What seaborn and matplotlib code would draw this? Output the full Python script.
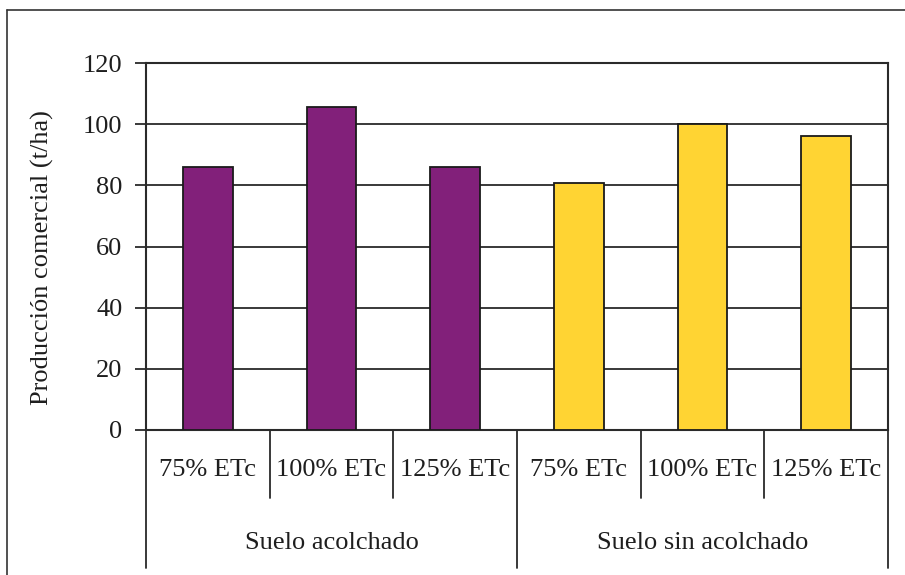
import matplotlib
matplotlib.use("Agg")
import matplotlib.pyplot as plt
from matplotlib.lines import Line2D
import seaborn as sns
import pandas as pd

# Data
groups = ["Suelo acolchado", "Suelo sin acolchado"]
treatments = ["75% ETc", "100% ETc", "125% ETc"]
acolchado = [86, 105.7, 86]
sin_acolchado = [80.7, 100, 96]
group_colors = ["#82207A", "#FFD433"]
y_ticks = [0, 20, 40, 60, 80, 100, 120]
y_label = "Producción comercial (t/ha)"

rows = []
for g, vals in zip(groups, [acolchado, sin_acolchado]):
    for t, v in zip(treatments, vals):
        rows.append({"grupo": g, "tratamiento": t, "clave": f"{g}|{t}", "valor": v})
df = pd.DataFrame(rows)

sns.set_theme(style="white")
plt.rcParams["font.family"] = ["Liberation Serif", "DejaVu Serif"]

W, H = 905, 575
fig = plt.figure(figsize=(W / 100, H / 100), dpi=100)
left, right, top, bottom = 146, 888, 63, 430
ax = fig.add_axes([left / W, 1 - bottom / H, (right - left) / W, (bottom - top) / H])

sns.barplot(data=df, x="clave", y="valor", hue="grupo", order=list(df["clave"]),
            palette=group_colors, saturation=1, dodge=False, width=0.4,
            edgecolor="#1a1a1a", linewidth=1.3, legend=False, ax=ax, zorder=3)

ax.set_ylim(0, 120)
ax.set_xlim(-0.5, len(df) - 0.5)
ax.set_yticks(y_ticks)
ax.set_yticklabels([str(t) for t in y_ticks], fontsize=19, color="#1e1e1e")
ax.set_xticks([])
ax.set_xlabel("")
ax.set_ylabel(y_label, fontsize=19, color="#1e1e1e")
ax.yaxis.set_label_coords(-0.124, 0.47)

ax.yaxis.grid(True, color="#2a2a2a", linewidth=1.3, zorder=0)
ax.set_axisbelow(True)
for s in ax.spines.values():
    s.set_visible(True)
    s.set_color("#2a2a2a")
    s.set_linewidth(1.5)
ax.tick_params(axis="y", which="major", left=True, length=8, width=1.3,
               color="#2a2a2a", pad=9)

# Category axis: treatment labels and group labels with separators
trans = ax.get_xaxis_transform()
n = len(df)
for i, t in enumerate(df["tratamiento"]):
    ax.text(i, -0.109, t, transform=trans, ha="center", va="center",
            fontsize=19, color="#1e1e1e")
for i in range(1, n):
    outer = i % len(treatments) == 0
    y_end = -0.375 if outer else -0.185
    ax.add_line(Line2D([i - 0.5, i - 0.5], [0, y_end], transform=trans,
                       color="#2a2a2a", linewidth=1.3, clip_on=False))
for edge in [-0.5, n - 0.5]:
    ax.add_line(Line2D([edge, edge], [0, -0.375], transform=trans,
                       color="#2a2a2a", linewidth=1.3, clip_on=False))
for gi, g in enumerate(groups):
    center = gi * len(treatments) + (len(treatments) - 1) / 2
    ax.text(center, -0.308, g, transform=trans, ha="center", va="center",
            fontsize=19, color="#1e1e1e")

# Frame around the figure
fig.add_artist(Line2D([7 / W, 1], [1 - 10 / H, 1 - 10 / H], transform=fig.transFigure,
                      color="#333333", linewidth=1.2))
fig.add_artist(Line2D([7 / W, 7 / W], [0, 1 - 10 / H], transform=fig.transFigure,
                      color="#333333", linewidth=1.2))

fig.savefig("out.png", dpi=100)
